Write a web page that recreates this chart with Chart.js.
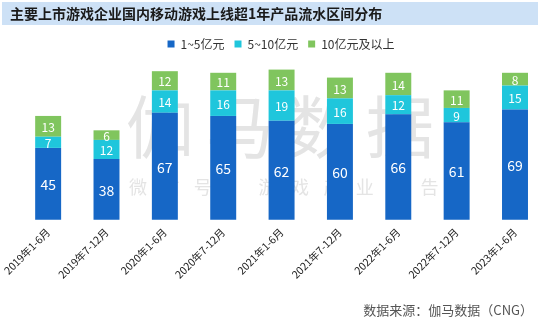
<!DOCTYPE html>
<html>
<head>
<meta charset="utf-8">
<script src="https://cdn.jsdelivr.net/npm/chart.js@4/dist/chart.umd.min.js"></script>
<style>
  html, body { margin: 0; padding: 0; background: #fff; }
  #wrap { width: 540px; height: 326px; }
</style>
</head>
<body>
<div id="wrap"><canvas id="chart" width="540" height="326"></canvas></div>
<script>
const periods = ['2019年1-6月', '2019年7-12月', '2020年1-6月', '2020年7-12月', '2021年1-6月',
                 '2021年7-12月', '2022年1-6月', '2022年7-12月', '2023年1-6月'];
const low = [45, 38, 67, 65, 62, 60, 66, 61, 69];    // 1~5亿元
const mid = [7, 12, 14, 16, 19, 16, 12, 9, 15];      // 5~10亿元
const high = [13, 6, 12, 11, 13, 13, 14, 11, 8];     // 10亿元及以上
const seriesNames = ['1~5亿元', '5~10亿元', '10亿元及以上'];

const titleText = '主要上市游戏企业国内移动游戏上线超1年产品流水区间分布';
const sourceText = '数据来源：伽马数据（CNG）';
const FONT = '"Noto Sans CJK SC", "Noto Sans", sans-serif';

// title bar, footer, watermark
const decor = {
    id: 'decor',
    beforeDraw(chart) {
        const c = chart.ctx;
        c.save();
        c.fillStyle = '#cde1f6';
        c.fillRect(2, 2, 536, 23);
        c.fillStyle = '#1a1a1a';
        c.font = 'bold 14px ' + FONT;
        c.textBaseline = 'middle';
        c.fillText(titleText, 10, 14);
        c.restore();
    },
    beforeDatasetsDraw(chart) {
        const c = chart.ctx;
        c.save();
        c.fillStyle = '#e4e4e4';
        c.textAlign = 'center';
        c.textBaseline = 'middle';
        c.font = '68px ' + FONT;
        ['伽', '马', '数', '据'].forEach((ch, i) => c.fillText(ch, 160 + i * 80, 127));
        c.font = '18px ' + FONT;
        const small = ['微', '信', '号', '', '游', '戏', '产', '业', '报', '告'];
        small.forEach((ch, i) => { if (ch) c.fillText(ch, 138 + i * 32.4, 187); });
        c.restore();
    },
    afterDraw(chart) {
        const c = chart.ctx;
        c.save();
        c.fillStyle = '#555';
        c.font = '13px ' + FONT;
        c.textAlign = 'right';
        c.textBaseline = 'middle';
        c.fillText(sourceText, 533, 310);
        c.restore();
    }
};

// values centred in each segment
const segmentLabels = {
    id: 'segmentLabels',
    afterDatasetsDraw(chart) {
        const c = chart.ctx;
        c.save();
        c.fillStyle = '#fff';
        c.textAlign = 'center';
        c.textBaseline = 'middle';
        chart.data.datasets.forEach((ds, di) => {
            c.font = (di === 0 ? '14px ' : '12px ') + FONT;
            chart.getDatasetMeta(di).data.forEach((el, i) => {
                const p = el.getCenterPoint();
                c.fillText(ds.data[i], p.x, p.y + 1);
            });
        });
        c.restore();
    }
};

const colors = ['#1667c6', '#1fc6dc', '#80c55e'];

new Chart(document.getElementById('chart'), {
    type: 'bar',
    data: {
        labels: periods,
        datasets: [low, mid, high].map((d, i) => ({
            label: seriesNames[i],
            data: d,
            backgroundColor: colors[i],
            borderWidth: 0,
            barPercentage: 1,
            categoryPercentage: 0.445,
            clip: false
        }))
    },
    options: {
        responsive: false,
        animation: false,
        layout: { padding: { top: 28, left: 47, right: 25, bottom: 39 } },
        plugins: {
            legend: {
                position: 'top',
                labels: {
                    boxWidth: 7,
                    boxHeight: 7,
                    padding: 10,
                    color: '#333',
                    font: { family: FONT, size: 12 }
                }
            },
            tooltip: { enabled: false }
        },
        scales: {
            x: {
                stacked: true,
                offset: false,
                grid: { display: false, drawTicks: false },
                border: { display: false },
                ticks: {
                    minRotation: 45,
                    maxRotation: 45,
                    padding: 6,
                    color: '#222',
                    font: { family: FONT, size: 10.5 }
                }
            },
            y: {
                stacked: true,
                display: false,
                min: 0,
                max: 100
            }
        }
    },
    plugins: [decor, segmentLabels]
});
</script>
</body>
</html>
